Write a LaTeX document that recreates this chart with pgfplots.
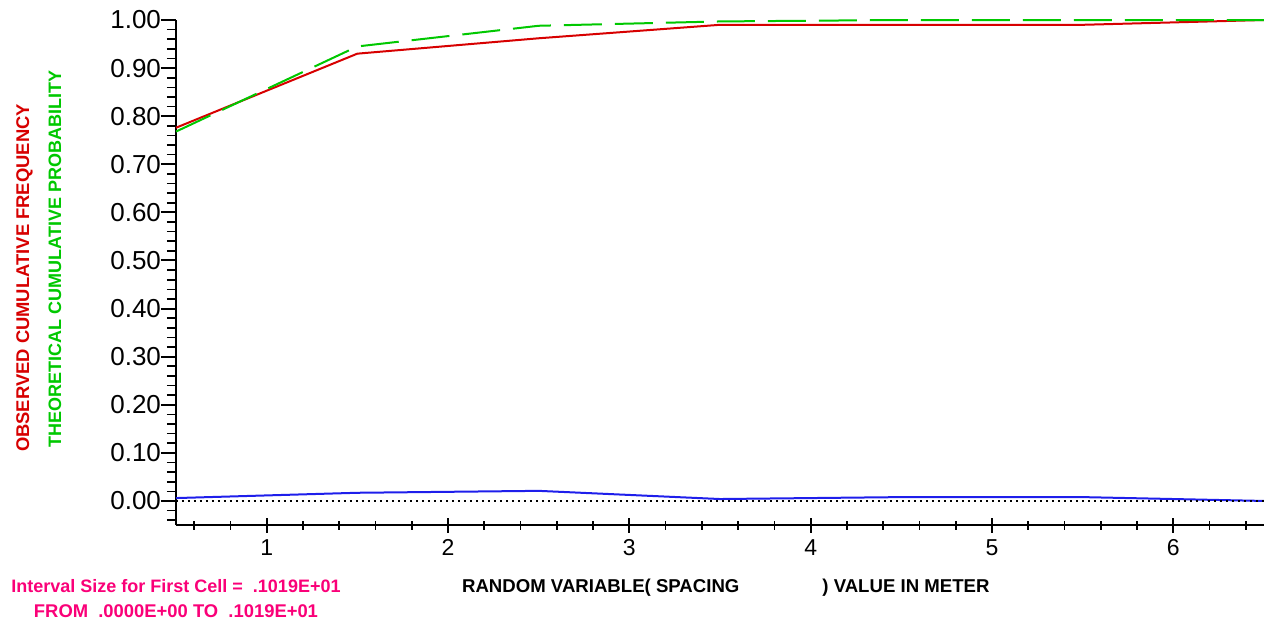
\documentclass[border=0pt]{standalone}
\usepackage{fontspec}
\setmainfont{Liberation Sans}
\usepackage{pgfplots}
\pgfplotsset{compat=1.18}
\definecolor{obsred}{RGB}{215,0,0}
\definecolor{theogreen}{RGB}{0,200,0}
\definecolor{diffblue}{RGB}{30,30,235}
\definecolor{notepink}{RGB}{250,0,120}
\begin{document}
\begin{tikzpicture}
\useasboundingbox (-88pt,-48.5pt) rectangle (544pt,262.5pt);
\begin{axis}[
  at={(0,0)}, anchor=south west,
  scale only axis, width=544pt, height=252.5pt,
  xmin=0.5, xmax=6.5, ymin=-0.05, ymax=1.0,
  axis x line*=bottom, axis y line*=left,
  axis line style={line width=1.3pt, -},
  xtick={1,2,3,4,5,6},
  minor xtick={0.6,0.8,1.2,1.4,1.6,1.8,2.2,2.4,2.6,2.8,3.2,3.4,3.6,3.8,4.2,4.4,4.6,4.8,5.2,5.4,5.6,5.8,6.2,6.4},
  ytick={0,0.1,0.2,0.3,0.4,0.5,0.6,0.7,0.8,0.9,1.0},
  minor ytick={-0.04,-0.02,0.02,0.04,0.06,0.08,0.12,0.14,0.16,0.18,0.22,0.24,0.26,0.28,0.32,0.34,0.36,0.38,0.42,0.44,0.46,0.48,0.52,0.54,0.56,0.58,0.62,0.64,0.66,0.68,0.72,0.74,0.76,0.78,0.82,0.84,0.86,0.88,0.92,0.94,0.96,0.98},
  xtick align=center, ytick align=outside,
  major tick length=7.5pt, minor tick length=4.5pt,
  major tick style={line width=1pt, black},
  minor tick style={line width=0.8pt, black},
  /pgf/number format/assume math mode=true,
  yticklabel style={/pgf/number format/fixed, /pgf/number format/precision=2, /pgf/number format/fixed zerofill, font=\fontsize{13}{13}\selectfont, xshift=3.5pt},
  xticklabel style={font=\fontsize{11.5}{11.5}\selectfont},
  clip=false,
]
\addplot[obsred, line width=1pt] coordinates {
  (0.5,0.776) (1.5,0.930) (2.5,0.962) (3.5,0.990) (4.5,0.990) (5.5,0.990) (6.5,1.000)};
\addplot[theogreen, line width=1pt, dash pattern=on 19pt off 6.5pt] coordinates {
  (0.5,0.768) (1.5,0.945) (2.5,0.988) (3.5,0.997) (4.5,1.000) (5.5,1.000) (6.5,1.000)};
\addplot[diffblue, line width=1pt] coordinates {
  (0.5,0.006) (1.5,0.017) (2.5,0.021) (3.5,0.004) (4.5,0.008) (5.5,0.008) (6.5,0.000)};
\addplot[black, line width=0.8pt, dash pattern=on 0.8pt off 2.2pt] coordinates {
  (0.5,0) (6.5,0)};
\end{axis}
\node[rotate=90, text=obsred, font=\bfseries\fontsize{9.2}{9.2}\selectfont] at (-75.8pt,123.5pt) {OBSERVED CUMULATIVE FREQUENCY};
\node[rotate=90, text=theogreen, font=\bfseries\fontsize{9}{9}\selectfont] at (-60.5pt,133pt) {THEORETICAL CUMULATIVE PROBABILITY};
\node[anchor=base, font=\bfseries\fontsize{9.3}{9.3}\selectfont] at (274.9pt,-33.5pt) {RANDOM VARIABLE( SPACING\hspace{41.5pt}) VALUE IN METER};
\node[anchor=base, text=notepink, font=\bfseries\fontsize{9}{9}\selectfont] at (0pt,-33.5pt) {Interval Size for First Cell =\ \ .1019E+01};
\node[anchor=base, text=notepink, font=\bfseries\fontsize{9.2}{9.2}\selectfont] at (0pt,-46pt) {FROM\ \ .0000E+00 TO\ \ .1019E+01};
\end{tikzpicture}
\end{document}
